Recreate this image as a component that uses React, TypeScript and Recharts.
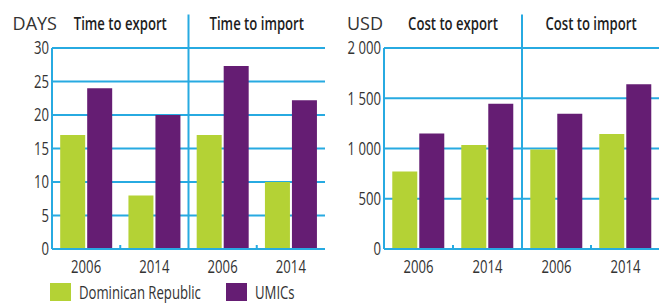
import React from 'react';
import {
  BarChart,
  Bar,
  XAxis,
  YAxis,
  CartesianGrid,
  ReferenceLine,
  Legend,
} from 'recharts';

const years = ['2006', '2014'];
const timeGroups = ['Time to export', 'Time to import'];
const costGroups = ['Cost to export', 'Cost to import'];
const seriesNames = ['Dominican Republic', 'UMICs'];

// order: export 2006, export 2014, import 2006, import 2014
const timeDominican = [17, 8, 17, 10];
const timeUmics = [24, 20, 27.3, 22.2];
const costDominican = [770, 1035, 990, 1145];
const costUmics = [1150, 1445, 1345, 1640];

const timeTicks = [0, 5, 10, 15, 20, 25, 30];
const costTicks = [0, 500, 1000, 1500, 2000];

const GREEN = '#b4d235';
const PURPLE = '#651d73';
const BLUE = '#27aae1';
const TEXT = '#333333';
const FONT = '"Open Sans", "Noto Sans", sans-serif';
const SQUEEZE = 0.73; // the original uses a condensed face

type Row = { id: string; group: string; year: string; dr: number; umic: number };

const buildRows = (groups: string[], dr: number[], umic: number[]): Row[] =>
  groups.flatMap((group, gi) =>
    years.map((year, yi) => {
      const i = gi * years.length + yi;
      return { id: `${group}|${year}`, group, year, dr: dr[i], umic: umic[i] };
    })
  );

const spaced = (v: any) => String(v).replace(/\B(?=(\d{3})+(?!\d))/g, ' ');

// condensed svg text for axis ticks
const makeTick =
  (format: (v: any) => string, anchor: string, dy: string, weight = 400, color = TEXT) =>
  (props: any) => {
    const { x, y, payload } = props;
    return (
      <g transform={`translate(${x},${y})`}>
        <text
          transform={`scale(${SQUEEZE},1)`}
          textAnchor={anchor}
          dy={dy}
          fill={color}
          fontSize={18}
          fontWeight={weight}
          fontFamily={FONT}
        >
          {format(payload.value)}
        </text>
      </g>
    );
  };

const LegendContent = (props: any) => {
  const items = props.payload || [];
  return (
    <div
      style={{
        display: 'flex',
        alignItems: 'center',
        height: 22,
        paddingLeft: 42,
        fontFamily: FONT,
        fontSize: 18,
        color: TEXT,
      }}
    >
      {items.map((item: any, i: number) => (
        <div
          key={i}
          style={{
            display: 'flex',
            alignItems: 'center',
            flexShrink: 0,
            width: i === 0 ? 176 : 120,
          }}
        >
          <span
            style={{ width: 21, height: 18, flexShrink: 0, background: item.color, marginRight: 8 }}
          />
          <span
            style={{
              display: 'inline-block',
              whiteSpace: 'nowrap',
              transform: `scaleX(${SQUEEZE})`,
              transformOrigin: 'left center',
            }}
          >
            {item.value}
          </span>
        </div>
      ))}
    </div>
  );
};

type PanelProps = {
  width: number;
  groups: string[];
  dr: number[];
  umic: number[];
  ticks: number[];
  unit: string;
  unitDx: number;
  yWidth: number;
  right: number;
  format?: (v: any) => string;
  legend?: boolean;
};

const Panel = ({ width, groups, dr, umic, ticks, unit, unitDx, yWidth, right, format, legend }: PanelProps) => {
  const rows = buildRows(groups, dr, umic);
  const max = ticks[ticks.length - 1];
  const top = (max * 35) / 30;
  const tickLen = max * 0.02;

  const unitLabel = (props: any) => {
    const vb = props.viewBox;
    return (
      <text
        x={vb.x + vb.width + unitDx}
        y={vb.y - 18}
        textAnchor="end"
        fill={TEXT}
        fontSize={18}
        fontFamily={FONT}
      >
        {unit}
      </text>
    );
  };

  return (
    <BarChart
      width={width}
      height={295}
      data={rows}
      margin={{ top: 0, right, left: 0, bottom: legend ? 0 : 22 }}
      barCategoryGap="12%"
      barGap={2}
    >
      <CartesianGrid vertical={false} stroke={BLUE} strokeWidth={2} />
      <XAxis
        xAxisId="top"
        orientation="top"
        dataKey="group"
        allowDuplicatedCategory={false}
        height={40}
        axisLine={false}
        tickLine={false}
        tickSize={0}
        tickMargin={18}
        interval={0}
        tick={makeTick((v) => v, 'middle', '0', 600, '#1e1e1e')}
      />
      <XAxis
        dataKey="id"
        height={32}
        interval={0}
        axisLine={{ stroke: BLUE, strokeWidth: 2 }}
        tickLine={false}
        tickSize={0}
        tickMargin={11}
        tick={makeTick((id) => String(id).split('|')[1], 'middle', '0.71em')}
      />
      <YAxis
        domain={[0, max]}
        ticks={ticks}
        width={yWidth}
        interval={0}
        axisLine={{ stroke: BLUE, strokeWidth: 2 }}
        tickLine={false}
        tickSize={0}
        tickMargin={3}
        tick={makeTick(format || ((v) => String(v)), 'end', '0.36em')}
        label={{ position: 'top', content: unitLabel }}
      />
      <Bar dataKey="dr" name={seriesNames[0]} fill={GREEN} isAnimationActive={false} />
      <Bar dataKey="umic" name={seriesNames[1]} fill={PURPLE} isAnimationActive={false} />
      {/* divider between the two groups */}
      <ReferenceLine
        segment={[
          { x: rows[1].id, y: 0 },
          { x: rows[1].id, y: top },
        ]}
        position="end"
        ifOverflow="visible"
        stroke={BLUE}
        strokeWidth={2}
      />
      {/* small ticks between the years */}
      {[rows[0].id, rows[2].id].map((id) => (
        <ReferenceLine
          key={id}
          segment={[
            { x: id, y: 0 },
            { x: id, y: tickLen },
          ]}
          position="end"
          ifOverflow="visible"
          stroke={BLUE}
          strokeWidth={2}
        />
      ))}
      {legend && <Legend verticalAlign="bottom" align="left" content={LegendContent} />}
    </BarChart>
  );
};

export default function App() {
  return (
    <div style={{ display: 'flex', width: 659 }}>
      <Panel
        width={330}
        groups={timeGroups}
        dr={timeDominican}
        umic={timeUmics}
        ticks={timeTicks}
        unit="DAYS"
        unitDx={5}
        yWidth={44}
        right={13}
        legend
      />
      <Panel
        width={329}
        groups={costGroups}
        dr={costDominican}
        umic={costUmics}
        ticks={costTicks}
        unit="USD"
        unitDx={-1}
        yWidth={46}
        right={7}
        format={spaced}
      />
    </div>
  );
}
